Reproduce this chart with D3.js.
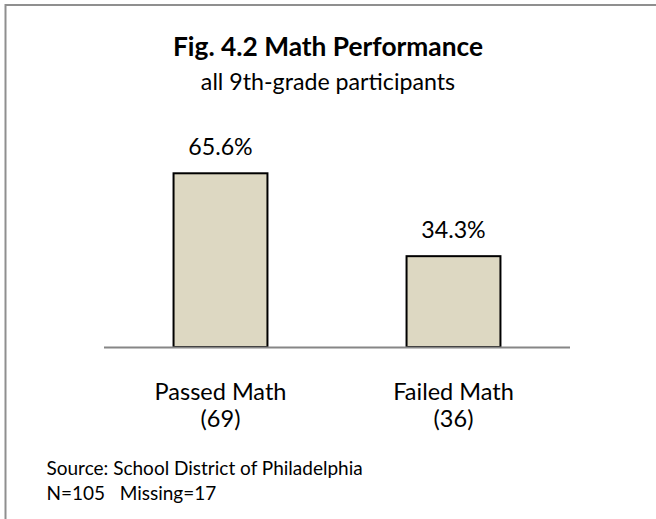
<!DOCTYPE html>
<html>
<head>
<meta charset="utf-8">
<script src="https://cdn.jsdelivr.net/npm/d3@7"></script>
<style>
  html, body { margin: 0; padding: 0; background: #fff; }
  svg { display: block; }
  text { font-family: Lato, "Open Sans", sans-serif; fill: #000; }
</style>
</head>
<body>
<svg id="chart" width="656" height="519"></svg>
<script>
// Chart data
const categories = ["Passed Math", "Failed Math"];
const counts = [69, 36];
const percents = [65.6, 34.3];
const title = "Fig. 4.2 Math Performance";
const subtitle = "all 9th-grade participants";
const notes = ["Source: School District of Philadelphia", "N=105   Missing=17"];

const svg = d3.select("#chart");
const W = 656, H = 519;

// Outer frame
svg.append("rect")
  .attr("x", 5.5).attr("y", 5)
  .attr("width", 700).attr("height", 600)
  .attr("fill", "none")
  .attr("stroke", "#8f8f8f")
  .attr("stroke-width", 2);

// Titles
svg.append("text")
  .attr("x", W / 2).attr("y", 56)
  .attr("text-anchor", "middle")
  .attr("font-weight", "bold")
  .attr("font-size", 26.3)
  .text(title);

svg.append("text")
  .attr("x", W / 2).attr("y", 90)
  .attr("text-anchor", "middle")
  .attr("font-size", 23.2)
  .text(subtitle);

// Plot area
const plot = { left: 104, right: 570, base: 347 };

const x = d3.scaleBand()
  .domain(categories)
  .range([plot.left, plot.right])
  .paddingInner(0.597)
  .paddingOuter(0.2985);

const yMax = 80;
const y = d3.scaleLinear()
  .domain([0, yMax])
  .range([plot.base, plot.base - yMax * 2.648]);

const data = categories.map((c, i) => ({ cat: c, pct: percents[i], n: counts[i] }));

// Bars
svg.append("g").selectAll("rect")
  .data(data)
  .join("rect")
  .attr("x", d => x(d.cat))
  .attr("y", d => y(d.pct))
  .attr("width", x.bandwidth())
  .attr("height", d => y(0) - y(d.pct))
  .attr("fill", "#ddd8c2")
  .attr("stroke", "#000")
  .attr("stroke-width", 2);

// Category axis line
svg.append("line")
  .attr("x1", plot.left).attr("x2", plot.right)
  .attr("y1", y(0) + 0.5).attr("y2", y(0) + 0.5)
  .attr("stroke", "#868686")
  .attr("stroke-width", 2);

// Value labels
svg.append("g").selectAll("text")
  .data(data)
  .join("text")
  .attr("x", d => x(d.cat) + x.bandwidth() / 2)
  .attr("y", d => y(d.pct) - 18.5)
  .attr("text-anchor", "middle")
  .attr("font-size", 23.2)
  .text(d => d.pct.toFixed(1) + "%");

// Category labels with counts
const catLabels = svg.append("g").selectAll("text")
  .data(data)
  .join("text")
  .attr("text-anchor", "middle")
  .attr("font-size", 23.5);
catLabels.append("tspan")
  .attr("x", d => x(d.cat) + x.bandwidth() / 2)
  .attr("y", 400)
  .text(d => d.cat);
catLabels.append("tspan")
  .attr("x", d => x(d.cat) + x.bandwidth() / 2)
  .attr("y", 427)
  .text(d => "(" + d.n + ")");

// Footnotes
svg.append("g").selectAll("text")
  .data(notes)
  .join("text")
  .attr("x", 46.5)
  .attr("y", (d, i) => 475 + i * 25)
  .attr("font-size", 19)
  .attr("xml:space", "preserve")
  .style("white-space", "pre")
  .text(d => d);
</script>
</body>
</html>
